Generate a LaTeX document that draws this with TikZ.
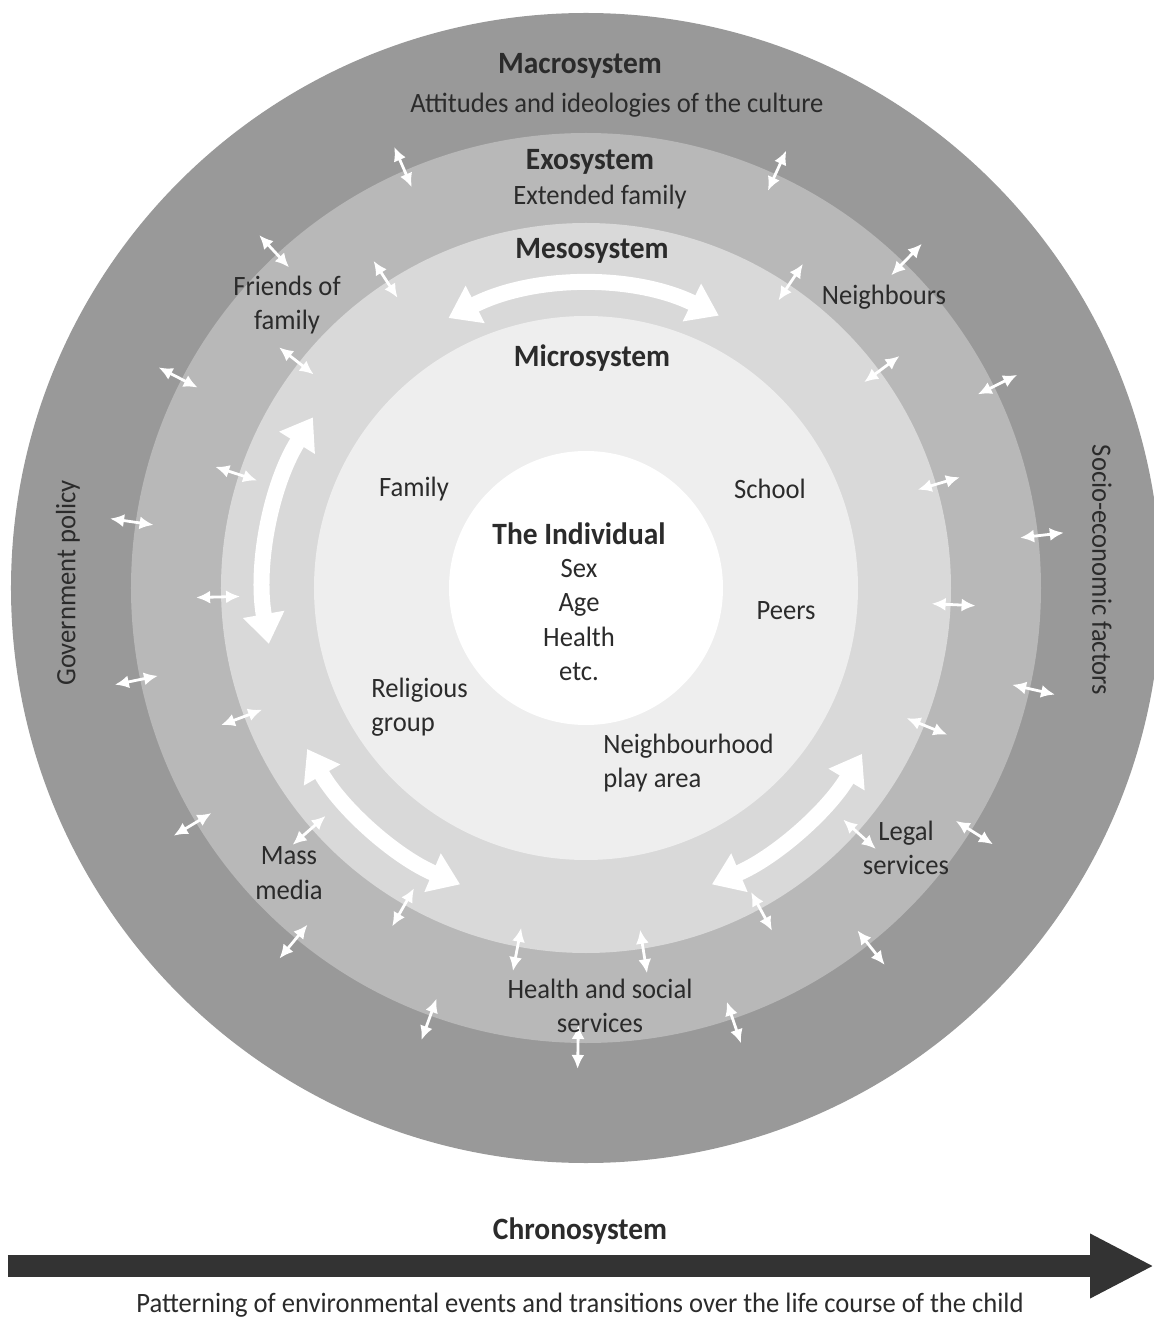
\documentclass[tikz,border=0pt]{standalone}
\usepackage{fontspec}
\setmainfont{Carlito}[FakeStretch=0.95]
\usetikzlibrary{arrows.meta,positioning}
\definecolor{macroc}{gray}{0.60}
\definecolor{exoc}{gray}{0.72}
\definecolor{mesoc}{gray}{0.85}
\definecolor{microc}{gray}{0.935}
\definecolor{txt}{gray}{0.17}
\definecolor{chronoc}{gray}{0.20}

\begin{document}
\begin{tikzpicture}[
  x=0.5pt,y=0.5pt,
  every node/.style={inner sep=0pt,text=txt,font=\fontsize{14}{17.3}\selectfont},
  lbl/.style={align=center},
  ttl/.style={font=\fontsize{15.5}{17.3}\selectfont\bfseries},
  link/.style={{Latex[length=7pt,width=6.5pt]}-{Latex[length=7pt,width=6.5pt]},white,line width=1.4pt},
  flow/.style={{Triangle[length=15pt,width=20pt]}-{Triangle[length=15pt,width=20pt]},white,line width=8pt},
  chrono/.style={-{Triangle[length=32pt,width=30pt]},line width=11pt,draw=chronoc}
]
\useasboundingbox (-586,-734) rectangle (568,588);
\fill[macroc] (0,0) circle[radius=575];
\fill[exoc] (0,0) circle[radius=455];
\fill[mesoc] (0,0) circle[radius=365];
\fill[microc] (0,0) circle[radius=272];
\fill[white] (0,0) circle[radius=137];

\foreach \a in {113.5,65.4,45.7,132.8,26.3,152.7,6.6,171.7,-12.8,191.6,-32.2,211,-51.6,230.4,-71.2,250,269}
  \draw[link] (\a:437) -- (\a:481);
\foreach \a in {123,56.2,141.9,36.5,161.9,16.5,181.4,-2.6,200.6,-22.1,221.2,-42,240.2,-61.5,259.2,-81}
  \draw[link] (\a:346) -- (\a:390);

\draw[flow] (117:303) arc[start angle=117,end angle=64,radius=303];
\draw[flow] (148:322) arc[start angle=148,end angle=190,radius=322];
\draw[flow] (210:322) arc[start angle=210,end angle=247,radius=322];
\draw[flow] (293:322) arc[start angle=293,end angle=329,radius=322];

\node[ttl] (macro) at (-6,522) {Macrosystem};
\node (culture) at (31,483) {Attitudes and ideologies of the culture};
\node[ttl] (exo) at (4,426) {Exosystem};
\node (extfam) at (14,391) {Extended family};
\node[ttl] (meso) at (6,337) {Mesosystem};
\node[ttl] (micro) at (6,230) {Microsystem};
\node[lbl] (friends) at (-299,283) {Friends of\\family};
\node (neighbours) at (298,291) {Neighbours};
\node (family) at (-172,99) {Family};
\node (school) at (184,99) {School};
\node[ttl] (indiv) at (-7,54) {The Individual};
\node[lbl] (attrs) at (-7,-32) {Sex\\Age\\Health\\etc.};
\node (peers) at (200,-23) {Peers};
\node[align=left,anchor=west] (religion) at (-215,-119) {Religious\\group};
\node[align=left,anchor=west] (playarea) at (17,-175) {Neighbourhood\\play area};
\node[lbl] (media) at (-297,-285) {Mass\\media};
\node[lbl] (legal) at (320,-260) {Legal\\services};
\node[lbl] (health) at (14,-418) {Health and social\\services};
\node[rotate=90] (gov) at (-518,5) {Government policy};
\node[rotate=-90] (socio) at (516,18) {Socio-economic factors};

\node[ttl] (chronos) at (-6,-643) {Chronosystem};
\coordinate (tstart) at (-578,-678);
\coordinate (tend) at (568,-678);
\draw[chrono] (tstart) -- (tend);
\node (pattern) at (-6,-717) {Patterning of environmental events and transitions over the life course of the child};
\end{tikzpicture}
\end{document}
